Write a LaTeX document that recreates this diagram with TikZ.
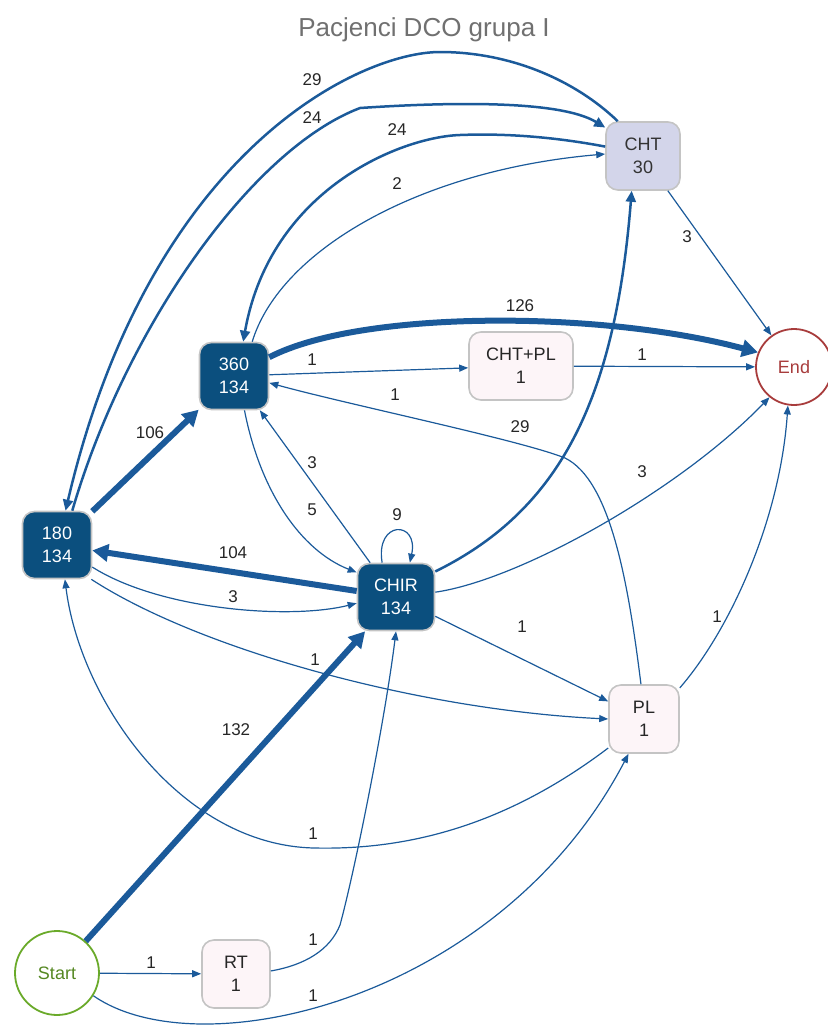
\documentclass[tikz,border=0pt]{standalone}
\usepackage{fontspec}
\setmainfont{Liberation Sans}
\usetikzlibrary{arrows.meta, shapes.geometric}
\definecolor{dcodark}{HTML}{0B4F7E}
\definecolor{dcoedge}{HTML}{1B5A9A}
\definecolor{dcolav}{HTML}{D3D5EA}
\definecolor{dcopale}{HTML}{FDF5F8}
\definecolor{dcogray}{HTML}{C4C4C4}
\definecolor{dcoend}{HTML}{A83C3C}
\definecolor{dcostart}{HTML}{6AAA2A}
\definecolor{dcotitle}{HTML}{707070}

\begin{document}
\begin{tikzpicture}[
  x=1pt, y=-1pt,
  every node/.style={font=\fontsize{18}{23}\selectfont},
  state/.style={rectangle, rounded corners=12pt, draw=dcogray, line width=1.6pt,
    minimum width=69pt, minimum height=67pt, align=center, inner sep=2pt},
  hot/.style={state, fill=dcodark, text=white},
  cold/.style={state, fill=dcopale, text=black!85},
  term/.style={circle, line width=1.8pt, fill=white, inner sep=0pt},
  flow/.style={draw=dcoedge, line width=1.2pt, -{Triangle[length=9pt,width=7pt]}},
  mid/.style={flow, line width=2.5pt, -{Triangle[length=11pt,width=10pt]}},
  main/.style={flow, line width=6pt, -{Triangle[length=16pt,width=17pt]}},
  lbl/.style={font=\fontsize{17}{20}\selectfont, text=black!85, inner sep=0pt}
]
\useasboundingbox (0,0) rectangle (828,1029);

\node[text=dcotitle, font=\fontsize{26}{30}\selectfont] (title) at (424,30) {Pacjenci DCO grupa I};

% states
\node[state, fill=dcolav, text=black!80, minimum width=74pt, minimum height=68pt] (cht) at (643,156) {CHT\\30};
\node[hot, minimum height=67pt] (n360) at (234,376) {360\\134};
\node[cold, minimum width=104pt, minimum height=68pt] (chtpl) at (521,366) {CHT+PL\\1};
\node[hot] (n180) at (57,545) {180\\134};
\node[hot, minimum width=77pt] (chir) at (396,597) {CHIR\\134};
\node[cold, minimum width=70pt, minimum height=68pt] (pl) at (644,719) {PL\\1};
\node[cold, minimum width=68pt, minimum height=68pt] (rt) at (236,974) {RT\\1};
\node[term, draw=dcoend, text=dcoend, minimum size=76pt] (endn) at (794,367) {End};
\node[term, draw=dcostart, text=dcostart!80!black, minimum size=84pt] (start) at (57,973) {Start};

% arcs over the top
\draw[mid] (cht.126) .. controls (575,80) and (510,52) .. (440,52)
  .. controls (360,52) and (150,150) .. (n180.76) node[lbl] (w1) at (312,80) {29};
\draw[mid] (n180.66) .. controls (125,330) and (250,150) .. (360,108)
  .. controls (450,102) and (560,100) .. (cht.143) node[lbl] (w2) at (312,118) {24};
\draw[mid] (cht.166) .. controls (560,138) and (510,133) .. (460,135)
  .. controls (400,137) and (270,190) .. (n360.75) node[lbl] (w3) at (397,130) {24};
\draw[flow] (n360.62) .. controls (280,250) and (420,170) .. (cht.177) node[lbl] (w4) at (397,184) {2};
\draw[flow] (cht) -- (endn) node[lbl] (w5) at (687,237) {3};

% from 360
\draw[main] (n360.28) .. controls (360,310) and (600,310) .. (endn.158) node[lbl] (w6) at (520,306) {126};
\draw[flow] (n360) -- (chtpl) node[lbl] (w7) at (312,360) {1};
\draw[flow] (chtpl) -- (endn) node[lbl] (w8) at (642,355) {1};
\draw[flow] (pl.95) .. controls (628,580) and (610,480) .. (565,458)
  .. controls (520,440) and (350,405) .. (n360.-11) node[lbl] (w9) at (395,395) {1};
\draw[flow] (n360.-73) .. controls (260,490) and (300,550) .. (chir.148) node[lbl] (w10) at (312,510) {5};

% from CHIR
\draw[mid] (chir.33) .. controls (560,510) and (615,400) .. (cht.-108) node[lbl] (w11) at (520,427) {29};
\draw[flow] (chir.7) .. controls (520,580) and (680,490) .. (endn.231) node[lbl] (w12) at (642,472) {3};
\draw[flow] (chir.127) -- (n360.-53) node[lbl] (w13) at (312,463) {3};
\draw[flow] (chir.112) .. controls (375,520) and (419,520) .. (chir.68) node[lbl] (w14) at (397,515) {9};
\draw[main] (chir) -- (n180) node[lbl] (w15) at (233,553) {104};
\draw[flow] (chir) -- (pl) node[lbl] (w16) at (522,627) {1};

% from 180
\draw[main] (n180) -- (n360) node[lbl] (w17) at (150,433) {106};
\draw[flow] (n180.-32) .. controls (160,610) and (290,620) .. (chir.189) node[lbl] (w18) at (233,597) {3};
\draw[flow] (n180.-45) .. controls (200,650) and (420,710) .. (pl.180) node[lbl] (w19) at (315,660) {1};

% from PL
\draw[flow] (pl.41) .. controls (730,630) and (780,520) .. (endn.-99) node[lbl] (w20) at (717,617) {1};
\draw[flow] (pl.219) .. controls (500,830) and (400,850) .. (314,848)
  .. controls (180,845) and (80,700) .. (n180.-77) node[lbl] (w21) at (313,834) {1};

% from Start and RT
\draw[main] (start) -- (chir) node[lbl] (w22) at (236,730) {132};
\draw[flow] (start) -- (rt) node[lbl] (w23) at (151,963) {1};
\draw[flow] (rt.5) .. controls (305,965) and (330,950) .. (340,925)
  .. controls (355,870) and (385,720) .. (chir.-90) node[lbl] (w24) at (313,940) {1};
\draw[flow] (start.-32) .. controls (200,1070) and (500,1000) .. (pl.-114) node[lbl] (w25) at (313,996) {1};
\end{tikzpicture}
\end{document}
